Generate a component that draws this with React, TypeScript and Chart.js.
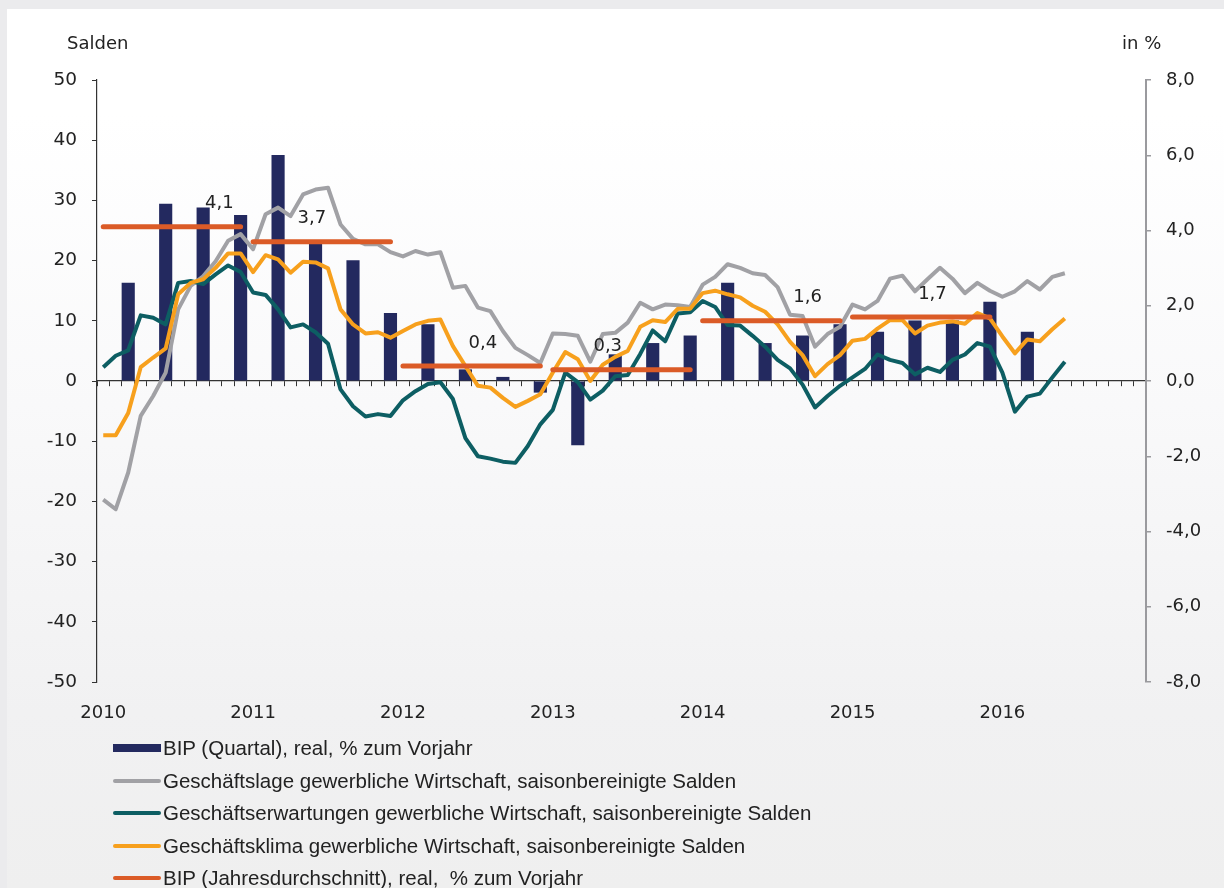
import React, { useEffect, useRef } from 'react';
import { Chart, registerables } from 'chart.js';

Chart.register(...registerables);

// ---------- data ----------
const yearLabels = ['2010', '2011', '2012', '2013', '2014', '2015', '2016'];
const monthNames = ['01', '02', '03', '04', '05', '06', '07', '08', '09', '10', '11', '12'];
const categories: string[] = yearLabels.flatMap((y) => monthNames.map((m) => `${y}-${m}`));

const seriesNames = [
  'BIP (Quartal), real, % zum Vorjahr',
  'Geschäftslage gewerbliche Wirtschaft, saisonbereinigte Salden',
  'Geschäftserwartungen gewerbliche Wirtschaft, saisonbereinigte Salden',
  'Geschäftsklima gewerbliche Wirtschaft, saisonbereinigte Salden',
  'BIP (Jahresdurchschnitt), real,  % zum Vorjahr',
];

// BIP quarterly, % yoy, 2010 Q1 .. 2016 Q1 (drawn at the last month of each quarter)
const bipQuarterly = [
  2.6, 4.7, 4.6, 4.4,
  6.0, 3.7, 3.2, 1.8,
  1.5, 0.3, 0.1, -0.3,
  -1.7, 0.7, 1.0, 1.2,
  2.6, 1.0, 1.2, 1.5,
  1.3, 1.6, 1.6, 2.1,
  1.3,
];

// monthly balances, Jan 2010 .. Jun 2016
const geschaeftslage = [
  -19.7, -21.3, -15.2, -5.8, -2.5, 1.4, 11.9, 15.8, 17.4, 19.9, 23.3, 24.4,
  21.9, 27.7, 28.8, 27.4, 31.0, 31.8, 32.1, 26.0, 23.6, 22.7, 22.7, 21.4,
  20.7, 21.6, 21.0, 21.4, 15.5, 15.8, 12.2, 11.6, 8.3, 5.5, 4.3, 3.0,
  7.9, 7.8, 7.5, 3.2, 7.8, 8.0, 9.7, 13.0, 11.9, 12.7, 12.6, 12.3,
  16.0, 17.3, 19.4, 18.8, 17.9, 17.6, 15.6, 11.0, 10.8, 5.7, 7.8, 9.0,
  12.7, 11.9, 13.3, 17.0, 17.5, 14.9, 16.9, 18.8, 17.0, 14.6, 16.3, 15.0,
  14.0, 14.9, 16.6, 15.2, 17.3, 17.9,
];

const geschaeftserwartungen = [
  2.3, 4.2, 5.1, 10.9, 10.5, 9.4, 16.3, 16.6, 16.1, 17.7, 19.2, 18.1,
  14.7, 14.3, 11.9, 8.9, 9.4, 8.1, 6.2, -1.4, -4.2, -5.9, -5.5, -5.8,
  -3.2, -1.7, -0.5, -0.2, -3.0, -9.5, -12.5, -12.9, -13.4, -13.6, -10.8, -7.2,
  -4.8, 1.4, -0.2, -3.1, -1.6, 0.8, 1.0, 4.5, 8.4, 6.6, 11.2, 11.4,
  13.3, 12.3, 9.3, 9.2, 7.5, 5.7, 3.5, 2.1, -0.6, -4.4, -2.5, -0.8,
  0.6, 2.0, 4.4, 3.5, 3.0, 1.1, 2.2, 1.5, 3.5, 4.4, 6.3, 5.7,
  1.4, -5.1, -2.6, -2.1, 0.6, 3.2,
];

const geschaeftsklima = [
  -9.0, -9.0, -5.3, 2.3, 3.9, 5.4, 14.4, 16.3, 16.9, 18.8, 21.2, 21.2,
  18.1, 20.9, 20.2, 18.0, 19.8, 19.7, 18.7, 11.9, 9.4, 7.9, 8.1, 7.2,
  8.3, 9.4, 10.0, 10.2, 5.8, 2.5, -0.8, -1.1, -2.8, -4.3, -3.3, -2.2,
  1.4, 4.8, 3.6, 0.0, 2.7, 4.0, 5.0, 9.0, 10.1, 9.8, 12.0, 12.0,
  14.6, 15.0, 14.4, 13.9, 12.5, 11.5, 9.4, 6.5, 4.3, 0.8, 2.8, 4.3,
  6.7, 7.0, 8.7, 10.1, 10.1, 7.9, 9.2, 9.7, 9.9, 9.5, 11.3, 10.4,
  7.4, 4.6, 6.9, 6.6, 8.6, 10.4,
];

// annual average GDP growth 2010 .. 2015
const bipAnnual = [4.1, 3.7, 0.4, 0.3, 1.6, 1.7];
const bipAnnualText = ['4,1', '3,7', '0,4', '0,3', '1,6', '1,7'];
// month (within each year) over which the value label is centred
const annualLabelAnchor = [9.3, 4.7, 6.4, 4.4, 8.4, 6.4];

// ---------- style ----------
const COLORS = {
  bar: '#23295f',
  lage: '#a1a1a5',
  erwartung: '#0d5e63',
  klima: '#f7a01d',
  annual: '#db5b27',
  text: '#222222',
};
const TICK_FONT = '"DejaVu Sans", Verdana, sans-serif';
const LEGEND_FONT = '"Liberation Sans", Arial, sans-serif';

const barData = categories.map((_, i) => (i % 3 === 2 && bipQuarterly[(i - 2) / 3] !== undefined ? bipQuarterly[(i - 2) / 3] : null));
const annualData = categories.map((_, i) => {
  const y = Math.floor(i / 12);
  return y < bipAnnual.length ? bipAnnual[y] : null;
});

const textPlugin = {
  id: 'extraText',
  afterDatasetsDraw(chart: any) {
    const ctx = chart.ctx;
    const x = chart.scales.x;
    const y1 = chart.scales.y1;
    ctx.save();
    ctx.fillStyle = COLORS.text;
    ctx.textBaseline = 'middle';
    ctx.font = `18px ${TICK_FONT}`;
    ctx.textAlign = 'center';
    bipAnnual.forEach((v, k) => {
      const px = x.getPixelForValue(k * 12 + annualLabelAnchor[k]);
      const py = y1.getPixelForValue(v) - 23;
      ctx.fillText(bipAnnualText[k], px, py);
    });
    ctx.textAlign = 'left';
    ctx.font = `18px ${TICK_FONT}`;
    ctx.fillText('Salden', 67, 44);
    ctx.fillText('in %', 1122, 44);
    ctx.restore();
  },
};

export default function App() {
  const canvasRef = useRef<HTMLCanvasElement | null>(null);

  useEffect(() => {
    const canvas = canvasRef.current;
    if (!canvas) return;
    const chart = new Chart(canvas, {
      type: 'bar',
      data: {
        labels: categories,
        datasets: [
          {
            type: 'bar',
            label: seriesNames[0],
            data: barData as any,
            yAxisID: 'y1',
            xAxisID: 'x',
            backgroundColor: COLORS.bar,
            barPercentage: 1,
            categoryPercentage: 1,
            order: 5,
          },
          {
            type: 'line',
            label: seriesNames[1],
            data: geschaeftslage,
            yAxisID: 'y',
            xAxisID: 'x',
            borderColor: COLORS.lage,
            borderWidth: 4,
            pointRadius: 0,
            tension: 0,
            borderJoinStyle: 'round',
            order: 4,
          },
          {
            type: 'line',
            label: seriesNames[2],
            data: geschaeftserwartungen,
            yAxisID: 'y',
            xAxisID: 'x',
            borderColor: COLORS.erwartung,
            borderWidth: 4,
            pointRadius: 0,
            tension: 0,
            borderJoinStyle: 'round',
            order: 3,
          },
          {
            type: 'line',
            label: seriesNames[3],
            data: geschaeftsklima,
            yAxisID: 'y',
            xAxisID: 'x',
            borderColor: COLORS.klima,
            borderWidth: 4,
            pointRadius: 0,
            tension: 0,
            borderJoinStyle: 'round',
            order: 2,
          },
          {
            type: 'line',
            label: seriesNames[4],
            data: annualData as any,
            yAxisID: 'y1',
            xAxisID: 'x',
            borderColor: COLORS.annual,
            borderWidth: 5,
            borderCapStyle: 'round',
            pointRadius: 0,
            tension: 0,
            spanGaps: false,
            order: 1,
            segment: {
              borderColor: (ctx: any) => (ctx.p0DataIndex % 12 === 11 ? 'rgba(0,0,0,0)' : COLORS.annual),
            },
          },
        ],
      },
      options: {
        responsive: false,
        animation: false,
        devicePixelRatio: 1,
        layout: { padding: { top: 80, left: 0, right: 0, bottom: 0 } },
        plugins: {
          legend: { display: false },
          tooltip: { enabled: false },
        },
        scales: {
          x: {
            type: 'category',
            position: { y: 0 } as any,
            offset: true,
            grid: {
              offset: true,
              drawOnChartArea: false,
              drawTicks: true,
              tickLength: 5,
              color: '#333333',
              lineWidth: 1,
            },
            border: { display: true, color: '#333333', width: 1.2 },
            ticks: { display: false, autoSkip: false },
          },
          x2: {
            type: 'category',
            position: 'bottom',
            labels: categories,
            offset: true,
            grid: { display: false, drawTicks: false },
            border: { display: false },
            ticks: {
              autoSkip: false,
              maxRotation: 0,
              minRotation: 0,
              padding: 21,
              color: COLORS.text,
              font: { family: TICK_FONT, size: 18 },
              callback: (_v: any, i: number) => (i % 12 === 0 ? yearLabels[i / 12] : ''),
            },
            afterFit: (s: any) => {
              s.height = 58;
            },
          },
          y: {
            type: 'linear',
            position: 'left',
            min: -50,
            max: 50,
            ticks: {
              stepSize: 10,
              padding: 15,
              color: COLORS.text,
              font: { family: TICK_FONT, size: 18.5 },
            },
            grid: { drawOnChartArea: false, tickLength: 5, color: '#333333' },
            border: { display: true, color: '#333333', width: 1.2 },
            afterFit: (s: any) => {
              s.width = 97;
            },
          },
          y1: {
            type: 'linear',
            position: 'right',
            min: -8,
            max: 8,
            ticks: {
              stepSize: 2,
              padding: 15,
              color: COLORS.text,
              font: { family: TICK_FONT, size: 18 },
              callback: (v: any) => Number(v).toFixed(1).replace('.', ','),
            },
            grid: { drawOnChartArea: false, tickLength: 5, color: '#9a9a9e', lineWidth: 1.5 },
            border: { display: true, color: '#9a9a9e', width: 2 },
            afterFit: (s: any) => {
              s.width = 78;
            },
          },
        },
      },
      plugins: [textPlugin],
    } as any);
    return () => chart.destroy();
  }, []);

  const legendColors = [COLORS.bar, COLORS.lage, COLORS.erwartung, COLORS.klima, COLORS.annual];

  return (
    <div style={{ position: 'fixed', left: 0, top: 0, width: 1224, height: 888, background: '#ebebed', overflow: 'hidden' }}>
      <div
        style={{
          position: 'absolute',
          left: 7,
          top: 9,
          right: 0,
          bottom: 0,
          background: 'linear-gradient(180deg, #ffffff 0%, #ffffff 12%, #f9f9fa 45%, #f1f1f2 80%, #efefef 100%)',
        }}
      />
      <canvas
        ref={canvasRef}
        width={1224}
        height={740}
        style={{ position: 'absolute', left: 0, top: 0, width: 1224, height: 740 }}
      />
      <div
        style={{
          position: 'absolute',
          left: 113,
          top: 732,
          font: `20.5px ${LEGEND_FONT}`,
          color: COLORS.text,
        }}
      >
        {seriesNames.map((name, k) => (
          <div key={k} style={{ display: 'flex', alignItems: 'center', height: 32.5 }}>
            <span
              style={{
                display: 'inline-block',
                flex: 'none',
                width: 48,
                height: k === 0 ? 8 : 4,
                borderRadius: k === 0 ? 0 : 2,
                background: legendColors[k],
              }}
            />
            <span style={{ marginLeft: 2, whiteSpace: 'pre' }}>{name}</span>
          </div>
        ))}
      </div>
    </div>
  );
}
